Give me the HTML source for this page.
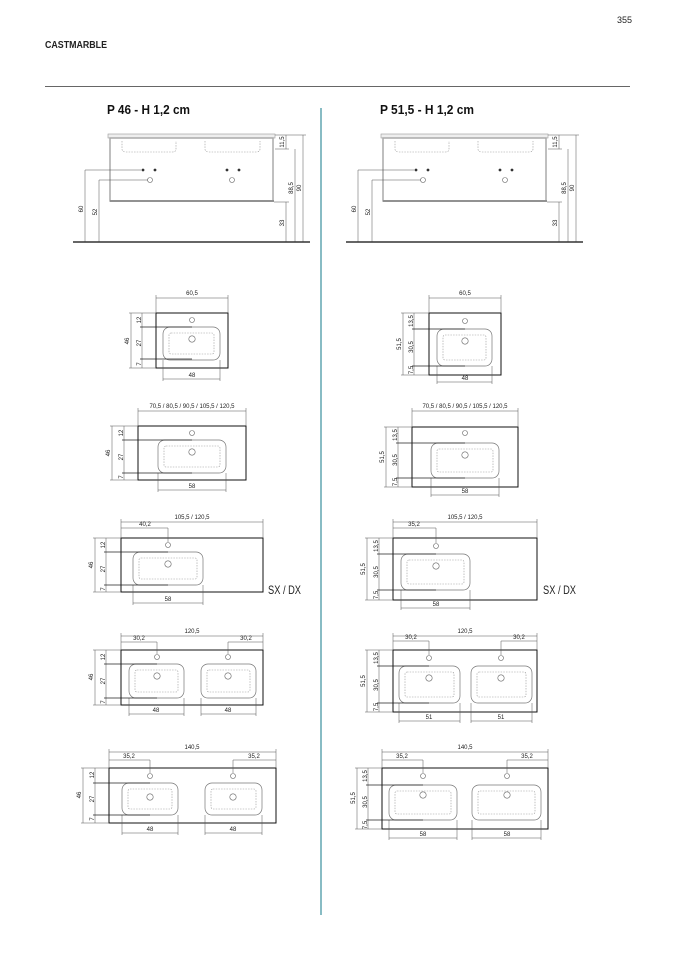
<!DOCTYPE html>
<html><head><meta charset="utf-8"><style>
html,body{margin:0;padding:0;background:#fff}
svg{display:block}
text{font-family:"Liberation Sans",sans-serif;font-size:6px;fill:#222}
.t{font-weight:bold;font-size:13px;fill:#111}
.d{stroke:#555;stroke-width:.5;fill:none}
.r{stroke:#111;stroke-width:1;fill:none}
.b{stroke:#777;stroke-width:.7;fill:none}
.x{stroke:#999;stroke-width:.6;stroke-dasharray:1.5 1.2;fill:none}
.c{stroke:#666;stroke-width:.6;fill:none}
.k{stroke:#222;stroke-width:.7;fill:none}
</style></head><body>
<svg width="677" height="958" viewBox="0 0 677 958" xmlns="http://www.w3.org/2000/svg">
<text x="617" y="23" style="font-size:9px">355</text>
<text x="45" y="48" style="font-size:10px;font-weight:bold" textLength="62" lengthAdjust="spacingAndGlyphs">CASTMARBLE</text>
<line x1="45" y1="86.5" x2="630" y2="86.5" stroke="#333" stroke-width="0.8"/>
<line x1="321" y1="108" x2="321" y2="915" stroke="#3a8f9c" stroke-width="1.2"/>
<text class="t" x="107" y="114" textLength="83" lengthAdjust="spacingAndGlyphs">P 46 - H 1,2 cm</text>
<text class="t" x="380" y="114" textLength="94" lengthAdjust="spacingAndGlyphs">P 51,5 - H 1,2 cm</text>

<!-- elevation left -->
<g id="elev">
<rect x="108" y="134" width="167" height="4" fill="#eee" stroke="#999" stroke-width=".6"/>
<rect x="110" y="138" width="163" height="63" fill="none" stroke="#aaa" stroke-width="1.5"/>
<line x1="110" y1="201" x2="274" y2="201" stroke="#888" stroke-width="1.8"/>
<path class="x" d="M122,141 v8 q0,3 4,3 h46 q4,0 4,-3 v-8"/>
<path class="x" d="M205,141 v8 q0,3 4,3 h47 q4,0 4,-3 v-8"/>
<circle cx="143" cy="170" r="1.4" fill="#333"/><circle cx="155" cy="170" r="1.4" fill="#333"/>
<circle cx="227" cy="170" r="1.4" fill="#333"/><circle cx="239" cy="170" r="1.4" fill="#333"/>
<circle cx="150" cy="180" r="2.5" class="c"/><circle cx="232" cy="180" r="2.5" class="c"/>
<path class="d" d="M85,242 V170 H141 M99,242 V180 H148"/>
<path class="d" d="M275,135 H306 M275,149 H289 M286,135 V149 M295,149 V242 M303,135 V242 M274,202 H289 M286,202 V242"/>
<line x1="73" y1="242" x2="310" y2="242" stroke="#333" stroke-width="1.5"/>
<text transform="translate(83,209) rotate(-90)" text-anchor="middle">60</text>
<text transform="translate(97,212) rotate(-90)" text-anchor="middle">52</text>
<text transform="translate(284,142) rotate(-90)" text-anchor="middle">11,5</text>
<text transform="translate(293,188) rotate(-90)" text-anchor="middle">88,5</text>
<text transform="translate(301,188) rotate(-90)" text-anchor="middle">90</text>
<text transform="translate(284,223) rotate(-90)" text-anchor="middle">33</text>
</g>
<g transform="translate(273,0)">
<rect x="108" y="134" width="167" height="4" fill="#eee" stroke="#999" stroke-width=".6"/>
<rect x="110" y="138" width="163" height="63" fill="none" stroke="#aaa" stroke-width="1.5"/>
<line x1="110" y1="201" x2="274" y2="201" stroke="#888" stroke-width="1.8"/>
<path class="x" d="M122,141 v8 q0,3 4,3 h46 q4,0 4,-3 v-8"/>
<path class="x" d="M205,141 v8 q0,3 4,3 h47 q4,0 4,-3 v-8"/>
<circle cx="143" cy="170" r="1.4" fill="#333"/><circle cx="155" cy="170" r="1.4" fill="#333"/>
<circle cx="227" cy="170" r="1.4" fill="#333"/><circle cx="239" cy="170" r="1.4" fill="#333"/>
<circle cx="150" cy="180" r="2.5" class="c"/><circle cx="232" cy="180" r="2.5" class="c"/>
<path class="d" d="M85,242 V170 H141 M99,242 V180 H148"/>
<path class="d" d="M275,135 H306 M275,149 H289 M286,135 V149 M295,149 V242 M303,135 V242 M274,202 H289 M286,202 V242"/>
<line x1="73" y1="242" x2="310" y2="242" stroke="#333" stroke-width="1.5"/>
<text transform="translate(83,209) rotate(-90)" text-anchor="middle">60</text>
<text transform="translate(97,212) rotate(-90)" text-anchor="middle">52</text>
<text transform="translate(284,142) rotate(-90)" text-anchor="middle">11,5</text>
<text transform="translate(293,188) rotate(-90)" text-anchor="middle">88,5</text>
<text transform="translate(301,188) rotate(-90)" text-anchor="middle">90</text>
<text transform="translate(284,223) rotate(-90)" text-anchor="middle">33</text>
</g>

<!-- L1 -->
<rect class="r" x="156" y="313" width="72" height="55"/>
<rect class="b" x="163" y="327" width="57" height="33" rx="7"/>
<rect class="x" x="169" y="333" width="45" height="21" rx="2"/>
<circle class="c" cx="192" cy="320" r="2.5"/><circle class="c" cx="192" cy="339" r="3.2"/>
<path class="d" d="M156,298 H228 M156,295 V313 M228,295 V313 M163,379 H220 M163,360 V381 M220,360 V381 M129,313 H156 M129,368 H156 M131,313 V368 M142,313 V368"/>
<path class="k" d="M140,327 H192 M140,359 H192"/>
<text x="192" y="295" text-anchor="middle">60,5</text><text x="192" y="377" text-anchor="middle">48</text>
<text transform="translate(129,341) rotate(-90)" text-anchor="middle">46</text>
<text transform="translate(141,320) rotate(-90)" text-anchor="middle">12</text>
<text transform="translate(141,343) rotate(-90)" text-anchor="middle">27</text>
<text transform="translate(141,364) rotate(-90)" text-anchor="middle">7</text>

<!-- L2 -->
<rect class="r" x="138" y="426" width="108" height="54"/>
<rect class="b" x="158" y="440" width="68" height="33" rx="7"/>
<rect class="x" x="164" y="446" width="56" height="21" rx="2"/>
<circle class="c" cx="192" cy="433" r="2.5"/><circle class="c" cx="192" cy="452" r="3.2"/>
<path class="d" d="M138,411 H246 M138,408 V426 M246,408 V426 M158,490 H226 M158,473 V492 M226,473 V492 M110,426 H138 M110,480 H138 M112,426 V480 M124,426 V480"/>
<path class="k" d="M122,440 H192 M122,473 H192"/>
<text x="192" y="408" text-anchor="middle">70,5 / 80,5 / 90,5 / 105,5 / 120,5</text><text x="192" y="488" text-anchor="middle">58</text>
<text transform="translate(110,453) rotate(-90)" text-anchor="middle">46</text>
<text transform="translate(123,433) rotate(-90)" text-anchor="middle">12</text>
<text transform="translate(123,457) rotate(-90)" text-anchor="middle">27</text>
<text transform="translate(123,477) rotate(-90)" text-anchor="middle">7</text>

<!-- L3 -->
<rect class="r" x="121" y="538" width="142" height="54"/>
<rect class="b" x="133" y="552" width="70" height="33" rx="7"/>
<rect class="x" x="139" y="558" width="58" height="21" rx="2"/>
<circle class="c" cx="168" cy="545" r="2.5"/><circle class="c" cx="168" cy="564" r="3.2"/>
<path class="d" d="M121,522 H263 M121,528 H168 M121,519 V538 M263,519 V538 M168,528 V542 M133,603 H203 M133,585 V605 M203,585 V605 M93,538 H121 M93,592 H121 M95,538 V592 M106,538 V592"/>
<path class="k" d="M104,552 H168 M104,585 H168"/>
<text x="192" y="519" text-anchor="middle">105,5 / 120,5</text><text x="145" y="526" text-anchor="middle">40,2</text><text x="168" y="601" text-anchor="middle">58</text>
<text transform="translate(93,565) rotate(-90)" text-anchor="middle">46</text>
<text transform="translate(105,545) rotate(-90)" text-anchor="middle">12</text>
<text transform="translate(105,569) rotate(-90)" text-anchor="middle">27</text>
<text transform="translate(105,589) rotate(-90)" text-anchor="middle">7</text>
<text x="268" y="594" style="font-size:12px" textLength="33" lengthAdjust="spacingAndGlyphs">SX / DX</text>

<!-- L4 -->
<rect class="r" x="121" y="650" width="142" height="55"/>
<rect class="b" x="129" y="664" width="55" height="34" rx="7"/>
<rect class="b" x="201" y="664" width="55" height="34" rx="7"/>
<rect class="x" x="135" y="670" width="43" height="22" rx="2"/>
<rect class="x" x="207" y="670" width="43" height="22" rx="2"/>
<circle class="c" cx="157" cy="657" r="2.5"/><circle class="c" cx="157" cy="676" r="3.2"/>
<circle class="c" cx="228" cy="657" r="2.5"/><circle class="c" cx="228" cy="676" r="3.2"/>
<path class="d" d="M121,636 H263 M121,642 H157 M228,642 H263 M121,633 V650 M263,633 V650 M157,642 V654 M228,642 V654 M129,714 H184 M201,714 H256 M129,698 V716 M184,698 V716 M201,698 V716 M256,698 V716 M93,650 H121 M93,705 H121 M95,650 V705 M106,650 V705"/>
<path class="k" d="M104,664 H157 M104,698 H157"/>
<text x="192" y="633" text-anchor="middle">120,5</text><text x="139" y="640" text-anchor="middle">30,2</text><text x="246" y="640" text-anchor="middle">30,2</text>
<text x="156" y="712" text-anchor="middle">48</text><text x="228" y="712" text-anchor="middle">48</text>
<text transform="translate(93,677) rotate(-90)" text-anchor="middle">46</text>
<text transform="translate(105,657) rotate(-90)" text-anchor="middle">12</text>
<text transform="translate(105,681) rotate(-90)" text-anchor="middle">27</text>
<text transform="translate(105,702) rotate(-90)" text-anchor="middle">7</text>

<!-- L5 -->
<rect class="r" x="109" y="768" width="167" height="55"/>
<rect class="b" x="122" y="783" width="56" height="32" rx="7"/>
<rect class="b" x="205" y="783" width="57" height="32" rx="7"/>
<rect class="x" x="128" y="789" width="44" height="20" rx="2"/>
<rect class="x" x="211" y="789" width="45" height="20" rx="2"/>
<circle class="c" cx="150" cy="776" r="2.5"/><circle class="c" cx="150" cy="797" r="3.2"/>
<circle class="c" cx="233" cy="776" r="2.5"/><circle class="c" cx="233" cy="797" r="3.2"/>
<path class="d" d="M109,752 H276 M109,760 H150 M233,760 H276 M109,749 V768 M276,749 V768 M150,760 V773 M233,760 V773 M122,833 H178 M205,833 H262 M122,815 V835 M178,815 V835 M205,815 V835 M262,815 V835 M81,768 H109 M81,823 H109 M83,768 V823 M95,768 V823"/>
<path class="k" d="M93,783 H150 M93,815 H150"/>
<text x="192" y="749" text-anchor="middle">140,5</text><text x="129" y="758" text-anchor="middle">35,2</text><text x="254" y="758" text-anchor="middle">35,2</text>
<text x="150" y="831" text-anchor="middle">48</text><text x="233" y="831" text-anchor="middle">48</text>
<text transform="translate(81,795) rotate(-90)" text-anchor="middle">46</text>
<text transform="translate(94,775) rotate(-90)" text-anchor="middle">12</text>
<text transform="translate(94,799) rotate(-90)" text-anchor="middle">27</text>
<text transform="translate(94,819) rotate(-90)" text-anchor="middle">7</text>

<!-- R1 -->
<rect class="r" x="429" y="313" width="72" height="62"/>
<rect class="b" x="437" y="329" width="55" height="37" rx="7"/>
<rect class="x" x="443" y="335" width="43" height="25" rx="2"/>
<circle class="c" cx="465" cy="321" r="2.5"/><circle class="c" cx="465" cy="341" r="3.2"/>
<path class="d" d="M429,298 H501 M429,295 V313 M501,295 V313 M437,382 H492 M437,366 V384 M492,366 V384 M401,313 H429 M401,375 H429 M403,313 V375 M414,313 V375"/>
<path class="k" d="M412,329 H465 M412,366 H465"/>
<text x="465" y="295" text-anchor="middle">60,5</text><text x="465" y="380" text-anchor="middle">48</text>
<text transform="translate(401,344) rotate(-90)" text-anchor="middle">51,5</text>
<text transform="translate(413,321) rotate(-90)" text-anchor="middle">13,5</text>
<text transform="translate(413,347) rotate(-90)" text-anchor="middle">30,5</text>
<text transform="translate(413,370) rotate(-90)" text-anchor="middle">7,5</text>

<!-- R2 -->
<rect class="r" x="412" y="427" width="106" height="60"/>
<rect class="b" x="431" y="443" width="68" height="35" rx="7"/>
<rect class="x" x="437" y="449" width="56" height="23" rx="2"/>
<circle class="c" cx="465" cy="433" r="2.5"/><circle class="c" cx="465" cy="455" r="3.2"/>
<path class="d" d="M412,411 H518 M412,408 V427 M518,408 V427 M431,495 H499 M431,478 V497 M499,478 V497 M384,427 H412 M384,487 H412 M386,427 V487 M398,427 V487"/>
<path class="k" d="M396,443 H465 M396,478 H465"/>
<text x="465" y="408" text-anchor="middle">70,5 / 80,5 / 90,5 / 105,5 / 120,5</text><text x="465" y="493" text-anchor="middle">58</text>
<text transform="translate(384,457) rotate(-90)" text-anchor="middle">51,5</text>
<text transform="translate(397,435) rotate(-90)" text-anchor="middle">13,5</text>
<text transform="translate(397,460) rotate(-90)" text-anchor="middle">30,5</text>
<text transform="translate(397,482) rotate(-90)" text-anchor="middle">7,5</text>

<!-- R3 -->
<rect class="r" x="393" y="538" width="144" height="62"/>
<rect class="b" x="401" y="554" width="69" height="36" rx="7"/>
<rect class="x" x="407" y="560" width="57" height="24" rx="2"/>
<circle class="c" cx="436" cy="546" r="2.5"/><circle class="c" cx="436" cy="566" r="3.2"/>
<path class="d" d="M393,522 H537 M393,528 H436 M393,519 V538 M537,519 V538 M436,528 V543 M401,608 H470 M401,590 V610 M470,590 V610 M365,538 H393 M365,600 H393 M367,538 V600 M379,538 V600"/>
<path class="k" d="M377,554 H436 M377,590 H436"/>
<text x="465" y="519" text-anchor="middle">105,5 / 120,5</text><text x="414" y="526" text-anchor="middle">35,2</text><text x="436" y="606" text-anchor="middle">58</text>
<text transform="translate(365,569) rotate(-90)" text-anchor="middle">51,5</text>
<text transform="translate(378,546) rotate(-90)" text-anchor="middle">13,5</text>
<text transform="translate(378,572) rotate(-90)" text-anchor="middle">30,5</text>
<text transform="translate(378,595) rotate(-90)" text-anchor="middle">7,5</text>
<text x="543" y="594" style="font-size:12px" textLength="33" lengthAdjust="spacingAndGlyphs">SX / DX</text>

<!-- R4 -->
<rect class="r" x="393" y="650" width="144" height="62"/>
<rect class="b" x="399" y="666" width="61" height="37" rx="7"/>
<rect class="b" x="471" y="666" width="61" height="37" rx="7"/>
<rect class="x" x="405" y="672" width="49" height="25" rx="2"/>
<rect class="x" x="477" y="672" width="49" height="25" rx="2"/>
<circle class="c" cx="429" cy="658" r="2.5"/><circle class="c" cx="429" cy="678" r="3.2"/>
<circle class="c" cx="501" cy="658" r="2.5"/><circle class="c" cx="501" cy="678" r="3.2"/>
<path class="d" d="M393,636 H537 M393,641 H429 M501,641 H537 M393,633 V650 M537,633 V650 M429,641 V655 M501,641 V655 M399,721 H460 M471,721 H532 M399,703 V723 M460,703 V723 M471,703 V723 M532,703 V723 M365,650 H393 M365,712 H393 M367,650 V712 M379,650 V712"/>
<path class="k" d="M377,666 H429 M377,703 H429"/>
<text x="465" y="633" text-anchor="middle">120,5</text><text x="411" y="639" text-anchor="middle">30,2</text><text x="519" y="639" text-anchor="middle">30,2</text>
<text x="429" y="719" text-anchor="middle">51</text><text x="501" y="719" text-anchor="middle">51</text>
<text transform="translate(365,681) rotate(-90)" text-anchor="middle">51,5</text>
<text transform="translate(378,658) rotate(-90)" text-anchor="middle">13,5</text>
<text transform="translate(378,685) rotate(-90)" text-anchor="middle">30,5</text>
<text transform="translate(378,707) rotate(-90)" text-anchor="middle">7,5</text>

<!-- R5 -->
<rect class="r" x="382" y="768" width="166" height="61"/>
<rect class="b" x="389" y="785" width="68" height="35" rx="7"/>
<rect class="b" x="472" y="785" width="69" height="35" rx="7"/>
<rect class="x" x="395" y="791" width="56" height="23" rx="2"/>
<rect class="x" x="478" y="791" width="57" height="23" rx="2"/>
<circle class="c" cx="423" cy="776" r="2.5"/><circle class="c" cx="423" cy="795" r="3.2"/>
<circle class="c" cx="507" cy="776" r="2.5"/><circle class="c" cx="507" cy="795" r="3.2"/>
<path class="d" d="M382,752 H548 M382,760 H423 M507,760 H548 M382,749 V768 M548,749 V768 M423,760 V773 M507,760 V773 M389,838 H457 M472,838 H541 M389,820 V840 M457,820 V840 M472,820 V840 M541,820 V840 M355,768 H382 M355,829 H382 M357,768 V829 M368,768 V829"/>
<path class="k" d="M366,785 H423 M366,820 H423"/>
<text x="465" y="749" text-anchor="middle">140,5</text><text x="402" y="758" text-anchor="middle">35,2</text><text x="527" y="758" text-anchor="middle">35,2</text>
<text x="423" y="836" text-anchor="middle">58</text><text x="507" y="836" text-anchor="middle">58</text>
<text transform="translate(355,798) rotate(-90)" text-anchor="middle">51,5</text>
<text transform="translate(367,776) rotate(-90)" text-anchor="middle">13,5</text>
<text transform="translate(367,802) rotate(-90)" text-anchor="middle">30,5</text>
<text transform="translate(367,825) rotate(-90)" text-anchor="middle">7,5</text>
</svg>
</body></html>
